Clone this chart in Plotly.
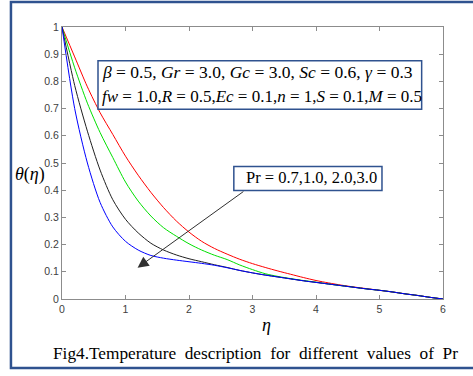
import plotly.graph_objects as go

eta = [0, 0.2, 0.4, 0.6, 0.8, 1.0, 1.2, 1.4, 1.6, 1.8, 2.0, 2.2, 2.4, 2.6, 2.8, 3.0,
       3.2, 3.4, 3.6, 3.8, 4.0, 4.2, 4.4, 4.6, 4.8, 5.0, 5.2, 5.4, 5.6, 5.8, 6.0]
theta_pr07 = [1, 0.89, 0.78, 0.685, 0.605, 0.525, 0.455, 0.392, 0.336, 0.287, 0.246,
              0.212, 0.186, 0.165, 0.146, 0.13, 0.116, 0.103, 0.091, 0.079, 0.068,
              0.059, 0.051, 0.044, 0.038, 0.032, 0.026, 0.019, 0.013, 0.006, 0]
theta_pr10 = [1, 0.85, 0.72, 0.612, 0.52, 0.43, 0.36, 0.305, 0.262, 0.231, 0.203,
              0.18, 0.161, 0.145, 0.125, 0.108, 0.093, 0.083, 0.075, 0.068, 0.062,
              0.055, 0.049, 0.043, 0.037, 0.032, 0.026, 0.019, 0.013, 0.006, 0]
theta_pr20 = [1, 0.785, 0.617, 0.474, 0.365, 0.293, 0.243, 0.205, 0.18, 0.162, 0.148,
              0.137, 0.126, 0.116, 0.105, 0.096, 0.088, 0.081, 0.074, 0.067, 0.061,
              0.055, 0.049, 0.043, 0.037, 0.032, 0.026, 0.019, 0.013, 0.006, 0]
theta_pr30 = [1, 0.70, 0.50, 0.355, 0.265, 0.212, 0.18, 0.16, 0.15, 0.143, 0.137,
              0.131, 0.124, 0.115, 0.105, 0.096, 0.088, 0.081, 0.074, 0.067, 0.061,
              0.055, 0.049, 0.043, 0.037, 0.032, 0.026, 0.019, 0.013, 0.006, 0]

series = [("Pr=0.7", theta_pr07, "#ff0000"),
          ("Pr=1.0", theta_pr10, "#00e000"),
          ("Pr=2.0", theta_pr20, "#202020"),
          ("Pr=3.0", theta_pr30, "#0000ff")]

x_ticks = [0, 1, 2, 3, 4, 5, 6]
y_ticks = [0, 0.1, 0.2, 0.3, 0.4, 0.5, 0.6, 0.7, 0.8, 0.9, 1]
y_tick_text = ["0", "0.1", "0.2", "0.3", "0.4", "0.5", "0.6", "0.7", "0.8", "0.9", "1"]

fig = go.Figure()
for name, vals, col in series:
    fig.add_trace(go.Scatter(x=eta, y=vals, mode="lines", name=name,
                             line=dict(color=col, width=1, shape="spline", smoothing=0.8)))

serif = "Liberation Serif"
axis_common = dict(showgrid=False, zeroline=False, showline=True, mirror="ticks",
                   linecolor="#8c8c8c", linewidth=1, ticks="inside", ticklen=4,
                   tickcolor="#8c8c8c",
                   tickfont=dict(family="Liberation Sans", size=10.5, color="#404040"))

fig.update_layout(
    width=473, height=376,
    margin=dict(l=62, r=30, t=27, b=77),
    paper_bgcolor="white", plot_bgcolor="white",
    showlegend=False,
    xaxis=dict(range=[0, 6], tickvals=x_ticks, **axis_common),
    yaxis=dict(range=[0, 1], tickvals=y_ticks, ticktext=y_tick_text, **axis_common),
)

# outer frame
fig.add_shape(type="rect", xref="paper", yref="paper", x0=-0.134, x1=1.09, y0=-0.254, y1=1.092,
              line=dict(color="#2f528f", width=2.5), fillcolor="rgba(0,0,0,0)", layer="above")
# parameter box
fig.add_shape(type="rect", xref="x", yref="y", x0=0.567, x1=5.664, y0=0.698, y1=0.876,
              line=dict(color="#2f528f", width=1.5), fillcolor="white", layer="above")
# Pr box
fig.add_shape(type="rect", xref="x", yref="y", x0=2.706, x1=5.039, y0=0.399, y1=0.487,
              line=dict(color="#2f528f", width=1.5), fillcolor="white", layer="above")

line1 = "<i>β</i> = 0.5, <i>Gr</i> = 3.0, <i>Gc</i> = 3.0, <i>Sc</i> = 0.6, <i>γ</i> = 0.3"
line2 = "<i>fw</i> = 1.0,<i>R</i> = 0.5,<i>Ec</i> = 0.1,<i>n</i> = 1,<i>S</i> = 0.1,<i>M</i> = 0.5"
fig.add_annotation(x=0.6, y=0.834, xref="x", yref="y", text=line1, showarrow=False,
                   xanchor="left", yanchor="middle", font=dict(family=serif, size=17.5, color="black"))
fig.add_annotation(x=0.6, y=0.746, xref="x", yref="y", text=line2, showarrow=False,
                   xanchor="left", yanchor="middle", font=dict(family=serif, size=17, color="black"))
fig.add_annotation(x=3.93, y=0.448, xref="x", yref="y", text="Pr = 0.7,1.0, 2.0,3.0",
                   showarrow=False, xanchor="center", yanchor="middle",
                   font=dict(family=serif, size=16.5, color="black"))
# arrow
fig.add_annotation(x=1.19, y=0.115, ax=2.88, ay=0.399, xref="x", yref="y", axref="x", ayref="y",
                   text="", showarrow=True, arrowhead=2, arrowsize=2.2, arrowwidth=1,
                   arrowcolor="#303030")
# axis titles
fig.add_annotation(x=3.22, y=-0.096, xref="x", yref="paper", text="<i>η</i>", showarrow=False,
                   xanchor="center", yanchor="middle", font=dict(family=serif, size=18, color="black"))
fig.add_annotation(x=-0.085, y=0.456, xref="paper", yref="paper", text="<i>θ</i>(<i>η</i>)",
                   showarrow=False, xanchor="center", yanchor="middle",
                   font=dict(family=serif, size=18, color="black"))
# caption
fig.add_annotation(x=0.507, y=-0.202, xref="paper", yref="paper",
                   text="Fig4.Temperature  description  for  different  values  of  Pr",
                   showarrow=False, xanchor="center", yanchor="middle",
                   font=dict(family=serif, size=17.3, color="black"))

fig.write_html("out.html")
